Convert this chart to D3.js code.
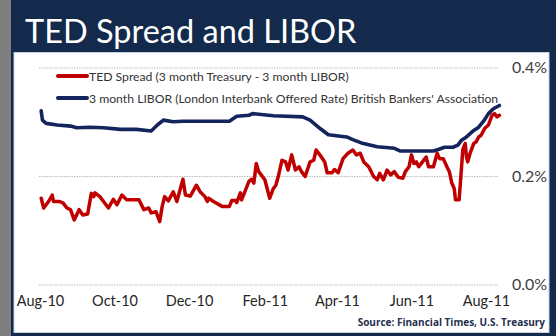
<!DOCTYPE html>
<html>
<head>
<meta charset="utf-8">
<script src="https://cdn.jsdelivr.net/npm/d3@7"></script>
<style>
  html, body { margin: 0; padding: 0; background: #ffffff; }
  svg { display: block; }
  text { font-family: Lato, "Open Sans", sans-serif; }
</style>
</head>
<body>
<svg id="chart" width="556" height="336"></svg>
<script>
// ---------- data ----------
const chartTitle = "TED Spread and LIBOR";
const seriesNames = [
  "TED Spread (3 month Treasury - 3 month LIBOR)",
  "3 month LIBOR (London Interbank Offered Rate) British Bankers' Association"
];
const sourceText = "Source:  Financial Times, U.S. Treasury";
const xTickLabels = ["2010-08-01","2010-10-01","2010-12-01","2011-02-01","2011-04-01","2011-06-01","2011-08-01"];
const yTickValues = [0, 0.2, 0.4];

const tedDates = ["2010-08-02","2010-08-04","2010-08-06","2010-08-08","2010-08-11","2010-08-12","2010-08-17","2010-08-20","2010-08-23","2010-08-26","2010-08-29","2010-09-02","2010-09-05","2010-09-09","2010-09-12","2010-09-14","2010-09-15","2010-09-19","2010-09-22","2010-09-26","2010-09-30","2010-10-03","2010-10-07","2010-10-11","2010-10-21","2010-10-25","2010-10-29","2010-10-31","2010-11-04","2010-11-07","2010-11-09","2010-11-11","2010-11-14","2010-11-18","2010-11-21","2010-11-26","2010-11-28","2010-12-02","2010-12-07","2010-12-10","2010-12-14","2010-12-16","2010-12-17","2010-12-21","2010-12-28","2011-01-03","2011-01-05","2011-01-08","2011-01-09","2011-01-12","2011-01-13","2011-01-19","2011-01-21","2011-01-23","2011-01-25","2011-01-27","2011-02-01","2011-02-05","2011-02-08","2011-02-10","2011-02-12","2011-02-15","2011-02-18","2011-02-20","2011-02-23","2011-02-26","2011-03-01","2011-03-03","2011-03-06","2011-03-10","2011-03-13","2011-03-15","2011-03-18","2011-03-22","2011-03-24","2011-03-28","2011-03-30","2011-04-02","2011-04-06","2011-04-10","2011-04-14","2011-04-17","2011-04-20","2011-04-23","2011-04-27","2011-05-01","2011-05-04","2011-05-06","2011-05-09","2011-05-12","2011-05-15","2011-05-18","2011-05-21","2011-05-25","2011-05-27","2011-05-30","2011-06-01","2011-06-03","2011-06-05","2011-06-07","2011-06-10","2011-06-13","2011-06-15","2011-06-19","2011-06-22","2011-06-24","2011-06-27","2011-06-30","2011-07-02","2011-07-04","2011-07-06","2011-07-07","2011-07-10","2011-07-12","2011-07-13","2011-07-15","2011-07-16","2011-07-17","2011-07-19","2011-07-22","2011-07-24","2011-07-26","2011-07-28","2011-07-31","2011-08-03","2011-08-06","2011-08-08","2011-08-10","2011-08-12"];
const tedValues = [0.159,0.141,0.147,0.153,0.165,0.153,0.153,0.150,0.141,0.138,0.119,0.138,0.128,0.130,0.168,0.162,0.169,0.162,0.153,0.141,0.157,0.147,0.165,0.156,0.156,0.138,0.141,0.132,0.134,0.116,0.144,0.162,0.154,0.171,0.153,0.194,0.165,0.163,0.183,0.171,0.162,0.153,0.159,0.153,0.144,0.144,0.155,0.155,0.151,0.169,0.156,0.190,0.194,0.187,0.223,0.208,0.193,0.159,0.177,0.183,0.199,0.229,0.226,0.211,0.239,0.211,0.217,0.208,0.199,0.226,0.229,0.248,0.239,0.226,0.206,0.206,0.212,0.206,0.232,0.242,0.248,0.239,0.242,0.226,0.217,0.199,0.193,0.205,0.193,0.211,0.202,0.208,0.198,0.196,0.208,0.217,0.239,0.223,0.226,0.217,0.226,0.235,0.217,0.217,0.242,0.232,0.232,0.217,0.208,0.187,0.177,0.156,0.156,0.217,0.248,0.260,0.235,0.226,0.242,0.260,0.263,0.272,0.275,0.288,0.294,0.312,0.315,0.309,0.312];

const liborDates = ["2010-08-02","2010-08-03","2010-08-06","2010-08-15","2010-08-26","2010-08-31","2010-09-11","2010-09-22","2010-10-06","2010-10-19","2010-10-31","2010-11-05","2010-11-10","2010-11-18","2010-11-26","2011-01-03","2011-01-09","2011-01-19","2011-01-22","2011-02-08","2011-03-04","2011-03-10","2011-03-18","2011-03-25","2011-04-09","2011-04-14","2011-04-21","2011-05-04","2011-05-18","2011-05-23","2011-06-02","2011-06-19","2011-06-23","2011-06-28","2011-07-05","2011-07-09","2011-07-12","2011-07-16","2011-07-22","2011-07-26","2011-07-30","2011-08-03","2011-08-07","2011-08-12"];
const liborValues = [0.320,0.303,0.297,0.294,0.292,0.289,0.290,0.289,0.286,0.286,0.283,0.294,0.303,0.300,0.301,0.301,0.310,0.312,0.315,0.311,0.309,0.303,0.288,0.276,0.272,0.267,0.261,0.254,0.251,0.246,0.246,0.246,0.249,0.253,0.253,0.257,0.266,0.272,0.284,0.290,0.301,0.315,0.324,0.330];

const colors = { ted: "#C00000", libor: "#14255E", navy: "#142A4C", strip: "#7F7F7F" };

// ---------- drawing ----------
const parse = d3.timeParse("%Y-%m-%d");
const svg = d3.select("#chart");
const W = 556, H = 336;

// backgrounds
svg.append("rect").attr("x", 0).attr("y", 0).attr("width", W).attr("height", H).attr("fill", colors.navy);
svg.append("rect").attr("x", 0).attr("y", 0).attr("width", 11).attr("height", H).attr("fill", colors.strip);
svg.append("rect").attr("x", 14).attr("y", 52.5).attr("width", 535).attr("height", 280)
  .attr("fill", "#ffffff").attr("stroke", "#c9d2df").attr("stroke-width", 1);

// title
svg.append("text").attr("x", 25).attr("y", 43).attr("fill", "#ffffff")
  .style("font-size", "32.5px").text(chartTitle);

const x = d3.scaleTime()
  .domain([parse(xTickLabels[0]), parse(xTickLabels[xTickLabels.length - 1])])
  .range([40, 486]);
const y = d3.scaleLinear().domain([0, 0.4]).range([284.5, 67.5]);

const plotLeft = 38, plotRight = 498;

// gridlines
const grid = svg.append("g").attr("transform", `translate(${plotRight},0)`)
  .call(d3.axisLeft(y).tickValues(yTickValues).tickSize(plotRight - plotLeft).tickFormat(""));
grid.select(".domain").remove();
grid.selectAll("line").attr("stroke", "#bdbdbd").attr("stroke-dasharray", "1.5,1").attr("stroke-width", 1.2);

// y axis labels
const yAxis = svg.append("g").attr("transform", `translate(${plotRight},0)`)
  .call(d3.axisRight(y).tickValues(yTickValues).tickSize(0).tickPadding(14)
    .tickFormat(d => d3.format(".1f")(d) + "%"));
yAxis.select(".domain").remove();
yAxis.selectAll("text").attr("fill", "#404040").style("font-size", "16px")
  .style("font-family", "Lato, sans-serif");

// x axis labels
const xAxis = svg.append("g").attr("transform", "translate(0,296)")
  .call(d3.axisBottom(x).tickValues(xTickLabels.map(parse)).tickSize(0).tickPadding(0)
    .tickFormat(d3.timeFormat("%b-%y")));
xAxis.select(".domain").remove();
xAxis.selectAll("text").attr("fill", "#262626").style("font-size", "14.5px")
  .style("font-family", "Lato, sans-serif");

// lines
const line = d3.line().x(d => x(d[0])).y(d => y(d[1])).curve(d3.curveLinear);
const liborData = liborDates.map((d, i) => [parse(d), liborValues[i]]);
const tedData = tedDates.map((d, i) => [parse(d), tedValues[i]]);

svg.append("path").datum(liborData).attr("d", line).attr("fill", "none")
  .attr("stroke", colors.libor).attr("stroke-width", 3.6).attr("stroke-linejoin", "round").attr("stroke-linecap", "round");
svg.append("path").datum(tedData).attr("d", line).attr("fill", "none")
  .attr("stroke", colors.ted).attr("stroke-width", 3.5).attr("stroke-linejoin", "round").attr("stroke-linecap", "round");

// legend
const legend = svg.append("g");
[[seriesNames[0], colors.ted, 76], [seriesNames[1], colors.libor, 98]].forEach(([name, c, ly]) => {
  legend.append("line").attr("x1", 58).attr("x2", 87).attr("y1", ly).attr("y2", ly)
    .attr("stroke", c).attr("stroke-width", 4).attr("stroke-linecap", "round");
  legend.append("text").attr("x", 89).attr("y", ly + 4.5).attr("fill", "#333333")
    .style("font-size", "12.2px").text(name);
});

// source
svg.append("text").attr("x", 545).attr("y", 326).attr("text-anchor", "end")
  .attr("fill", "#1F2F50").style("font-size", "10px").style("font-weight", "bold")
  .style("font-family", "'Liberation Sans Narrow', 'Open Sans', sans-serif")
  .text(sourceText);
</script>
</body>
</html>
